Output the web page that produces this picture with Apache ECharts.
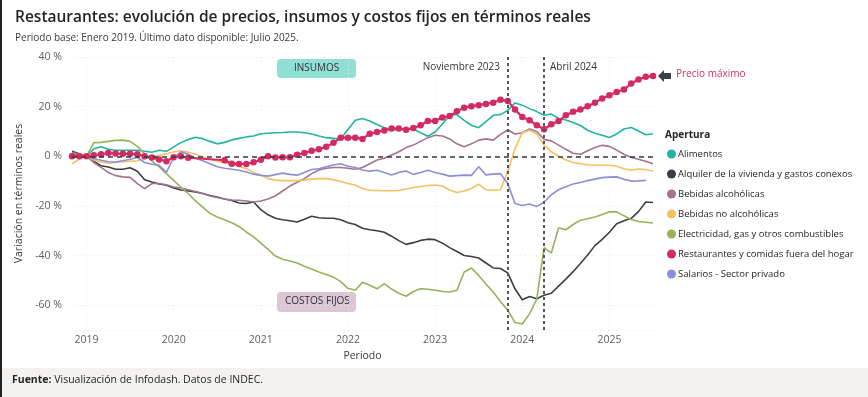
<!DOCTYPE html>
<html>
<head>
<meta charset="utf-8">
<script src="https://cdn.jsdelivr.net/npm/echarts@6/dist/echarts.min.js"></script>
<style>
	html, body { margin: 0; padding: 0; background: #fff; }
	#chart { width: 868px; height: 397px; }
</style>
</head>
<body>
<div id="chart"></div>
<script>
// ==========================
// datos (variación % en términos reales, base enero 2019)
// ==========================
var meses = [ '2018-11', '2018-12',
		'2019-01', '2019-02', '2019-03', '2019-04', '2019-05', '2019-06', '2019-07', '2019-08', '2019-09', '2019-10', '2019-11', '2019-12',
		'2020-01', '2020-02', '2020-03', '2020-04', '2020-05', '2020-06', '2020-07', '2020-08', '2020-09', '2020-10', '2020-11', '2020-12',
		'2021-01', '2021-02', '2021-03', '2021-04', '2021-05', '2021-06', '2021-07', '2021-08', '2021-09', '2021-10', '2021-11', '2021-12',
		'2022-01', '2022-02', '2022-03', '2022-04', '2022-05', '2022-06', '2022-07', '2022-08', '2022-09', '2022-10', '2022-11', '2022-12',
		'2023-01', '2023-02', '2023-03', '2023-04', '2023-05', '2023-06', '2023-07', '2023-08', '2023-09', '2023-10', '2023-11', '2023-12',
		'2024-01', '2024-02', '2024-03', '2024-04', '2024-05', '2024-06', '2024-07', '2024-08', '2024-09', '2024-10', '2024-11', '2024-12',
		'2025-01', '2025-02', '2025-03', '2025-04', '2025-05', '2025-06', '2025-07' ];

var alimentos = [ 0.5, 0.3, 0, 3.0, 3.8, 2.8, 2.4, 2.4, 2.4, 2.4,
		2.0, 1.6, 2.4, 2.0, 3.8, 5.5, 6.8, 7.7, 7.1, 6.0,
		5.0, 5.6, 6.6, 7.2, 7.8, 8.2, 9.1, 9.3, 9.5, 9.6,
		9.8, 9.8, 9.5, 9.0, 8.2, 7.5, 7.2, 7.1, 10.8, 14.5,
		15.2, 14.2, 12.8, 11.5, 10.8, 10.5, 11.2, 11.0, 9.5, 8.1,
		9.8, 13.0, 16.3, 16.8, 14.5, 12.5, 11.5, 14.0, 16.5, 16.8,
		18.5, 21.5, 20.6, 19.2, 18.0, 16.5, 17.0, 15.2, 14.6, 13.6,
		12.4, 10.5, 9.3, 8.5, 7.6, 9.0, 11.0, 11.6, 10.2, 8.7,
		9.1 ];

var alquiler = [ 2.0, 1.0, 0, -2.0, -3.8, -4.3, -5.2, -5.2, -4.6, -6.0,
		-9.5, -10.4, -11.2, -11.7, -12.8, -13.6, -14.0, -14.4, -15.0, -15.8,
		-16.4, -17.2, -17.8, -18.8, -19.0, -18.4, -21.5, -23.6, -25.0, -25.6,
		-26.0, -26.5, -25.4, -24.2, -24.8, -25.0, -25.0, -25.6, -26.8, -27.5,
		-29.0, -29.6, -30.0, -30.6, -32.2, -34.0, -35.5, -34.8, -33.9, -33.4,
		-33.6, -35.0, -36.8, -38.4, -40.0, -40.4, -41.0, -43.0, -45.0, -45.2,
		-47.0, -53.4, -57.8, -56.5, -57.4, -56.0, -55.2, -52.3, -49.5, -46.5,
		-43.2, -39.8, -36.0, -33.5, -30.6, -27.2, -26.0, -25.0, -22.3, -18.4,
		-18.6 ];

var bebidasAlc = [ 1.5, 0.8, 0, -2.5, -4.5, -6.5, -7.8, -8.3, -8.5, -11.0,
		-13.0, -11.0, -11.0, -11.5, -12.4, -12.8, -13.5, -14.2, -15.0, -16.0,
		-16.6, -17.2, -17.6, -17.7, -18.0, -18.4, -18.0, -17.2, -16.0, -14.0,
		-12.0, -10.5, -9.0, -7.0, -5.5, -4.8, -4.5, -4.5, -4.8, -5.2,
		-4.5, -3.0, -1.5, -0.8, 0.5, 1.8, 3.5, 4.5, 6.0, 7.5,
		8.5, 8.2, 7.0, 5.0, 3.8, 5.0, 6.5, 7.0, 6.5, 8.8,
		10.6, 9.0, 9.5, 11.0, 10.0, 6.8, 6.2, 4.5, 2.8, 1.2,
		0.8, 2.2, 3.5, 4.4, 4.0, 2.5, 0.8, -0.5, -1.2, -2.0,
		-3.0 ];

var bebidasNoAlc = [ -3.0, -1.2, 0, -1.5, -2.3, -2.8, -2.5, -2.2, -2.0, -1.8,
		-0.9, -0.2, 0.3, 1.0, 1.7, 2.2, 1.6, 0.8, -0.3, -1.2,
		-2.0, -2.6, -3.3, -4.0, -5.0, -6.5, -7.5, -9.0, -9.6, -9.8,
		-9.8, -9.8, -9.6, -9.2, -9.0, -9.0, -9.5, -10.2, -11.0, -11.6,
		-13.0, -13.7, -13.8, -13.9, -13.9, -13.8, -13.2, -12.6, -12.2, -11.8,
		-11.6, -12.0, -13.6, -14.6, -14.0, -13.0, -11.2, -13.5, -13.7, -13.5,
		-6.0, 3.0, 9.5, 10.5, 9.0, 4.5, 1.8, 0.0, -1.5, -2.5,
		-3.0, -3.4, -3.6, -3.6, -3.6, -4.0, -5.0, -5.6, -5.1, -5.3,
		-5.9 ];

var electricidad = [ 1.0, 0.5, 0, 5.5, 5.6, 6.0, 6.4, 6.5, 6.0, 4.0,
		1.0, -2.0, -4.3, -7.0, -9.7, -12.5, -15.0, -18.0, -20.5, -23.0,
		-24.5, -25.6, -26.8, -28.3, -30.5, -32.5, -35.0, -37.5, -40.2, -41.5,
		-42.2, -43.0, -44.3, -45.4, -46.6, -47.6, -48.7, -50.5, -53.2, -54.0,
		-50.8, -52.0, -53.4, -51.3, -53.5, -55.2, -56.4, -54.5, -53.4, -53.6,
		-54.0, -54.5, -54.7, -54.0, -46.6, -45.0, -48.0, -51.5, -54.7, -58.5,
		-62.0, -67.0, -67.6, -63.5, -57.5, -36.8, -39.0, -28.8, -29.6, -27.5,
		-25.8, -25.2, -24.5, -23.5, -22.4, -22.4, -24.0, -25.5, -26.3, -26.6,
		-26.9 ];

// abril a julio 2020 sin dato
var restaurantes = [ 0, 0, 0, 0.4, 0.8, 1.3, 1.1, 1.0, 1.0, 0.8,
		0, -0.5, -1.3, -2.0, -0.4, 0, -0.6, null, null, null,
		null, -1.6, -3.0, -3.1, -3.1, -2.4, -1.4, 0, -0.5, -0.4,
		-0.4, 0.6, 1.3, 2.2, 2.8, 3.8, 5.4, 7.5, 7.5, 7.5,
		7.0, 9.1, 9.8, 10.4, 11.2, 11.2, 10.7, 11.4, 12.5, 14.2,
		14.2, 15.6, 16.2, 18.1, 19.6, 20.2, 20.6, 21.1, 21.6, 22.8,
		22.3, 18.8, 15.8, 14.5, 12.5, 10.9, 12.9, 14.2, 16.5, 17.9,
		18.8, 20.2, 21.6, 23.3, 24.6, 25.9, 26.9, 29.3, 30.9, 32.0,
		32.3 ];

var salarios = [ 0.5, 0.3, 0, -1.0, -1.6, -2.2, -2.3, -1.8, -1.2, -0.5,
		-2.5, -3.2, -3.6, -6.5, -0.5, 1.8, 0.8, -0.8, -1.8, -3.0,
		-4.2, -4.8, -5.2, -5.6, -6.3, -7.2, -7.7, -8.0, -7.4, -6.8,
		-7.3, -7.6, -6.5, -5.3, -5.0, -4.2, -3.5, -3.0, -4.0, -4.5,
		-5.5, -6.0, -5.6, -6.5, -7.5, -6.5, -5.9, -7.3, -6.5, -5.6,
		-6.5, -7.2, -8.0, -7.8, -7.6, -7.7, -4.2, -7.5, -7.2, -7.0,
		-11.0, -19.0, -19.8, -19.2, -20.2, -18.5, -15.5, -13.5, -12.3, -11.2,
		-10.6, -9.8, -9.2, -8.6, -8.4, -8.3, -9.3, -10.0, -9.9, -9.7,
		null ];

var nombres = [ 'Alimentos', 'Alquiler de la vivienda y gastos conexos',
		'Bebidas alcohólicas', 'Bebidas no alcohólicas',
		'Electricidad, gas y otros combustibles',
		'Restaurantes y comidas fuera del hogar', 'Salarios - Sector privado' ];
var colores = [ '#22b3a3', '#3b3f45', '#a3738f', '#f5c064', '#98b25c', '#d42a63', '#8c8fd6' ];

var marcasX = [ '2023-11', '2024-04' ];
var ticksY = [ -60, -40, -20, 0, 20, 40 ];

// ==========================
// gráfico
// ==========================
var fuente = 'Open Sans';
var esEnero = function(i, v) {
	return v.slice(5) == '01';
};

function linea(nombre, datos, color, z) {
	return {
		name : nombre,
		type : 'line',
		data : datos,
		showSymbol : false,
		symbol : 'circle',
		connectNulls : true,
		lineStyle : { width : 1.6, color : color },
		itemStyle : { color : color },
		z : z
	};
}

var series = [ linea(nombres[0], alimentos, colores[0], 2),
		linea(nombres[1], alquiler, colores[1], 2),
		linea(nombres[2], bebidasAlc, colores[2], 2),
		linea(nombres[3], bebidasNoAlc, colores[3], 2),
		linea(nombres[4], electricidad, colores[4], 2),
		linea(nombres[5], restaurantes, colores[5], 4),
		linea(nombres[6], salarios, colores[6], 2) ];

// restaurantes con marcadores en todos los meses
series[5].showSymbol = true;
series[5].showAllSymbol = true;
series[5].symbolSize = 6.5;
series[5].lineStyle.width = 2.2;

// líneas de referencia
series[0].markLine = {
	silent : true,
	symbol : 'none',
	label : { show : false },
	data : [ {
		yAxis : 0,
		lineStyle : { color : '#3a3a3a', type : [ 5, 4 ], width : 1.5 }
	}, {
		xAxis : marcasX[0],
		lineStyle : { color : '#555', type : [ 3, 3 ], width : 2 }
	}, {
		xAxis : marcasX[1],
		lineStyle : { color : '#555', type : [ 3, 3 ], width : 2 }
	} ]
};

var chart = echarts.init(document.getElementById('chart'));
var option = {
	backgroundColor : '#fff',
	animation : false,
	textStyle : { fontFamily : fuente },
	title : {
		text : 'Restaurantes: evolución de precios, insumos y costos fijos en términos reales',
		subtext : 'Periodo base: Enero 2019. Último dato disponible: Julio 2025.',
		left : 10,
		top : 5,
		itemGap : 7,
		textStyle : { fontFamily : fuente, fontSize : 15.5, fontWeight : 600, color : '#252423' },
		subtextStyle : { fontFamily : fuente, fontSize : 10, color : '#3b3a39' }
	},
	legend : {
		orient : 'vertical',
		left : 662,
		top : 144,
		icon : 'circle',
		itemWidth : 9,
		itemHeight : 9,
		itemGap : 10,
		selectedMode : false,
		data : nombres,
		textStyle : { fontFamily : fuente, fontSize : 9.5, color : '#252423', padding : [ 0, 0, 0, -3 ] }
	},
	grid : { left : 72, right : 215, top : 57, bottom : 67 },
	xAxis : {
		type : 'category',
		boundaryGap : false,
		data : meses,
		name : 'Periodo',
		nameLocation : 'middle',
		nameGap : 21,
		nameTextStyle : { fontFamily : fuente, fontSize : 10.5, color : '#3b3a39' },
		axisLine : { show : false },
		axisTick : { show : false },
		axisLabel : {
			interval : esEnero,
			margin : 5,
			fontSize : 10.5,
			color : '#605e5c',
			formatter : function(v) {
				return v.slice(0, 4);
			}
		},
		splitLine : {
			show : true,
			interval : esEnero,
			lineStyle : { color : '#eeeeee', type : [ 1, 3 ] }
		}
	},
	yAxis : {
		type : 'value',
		min : -70,
		max : 40,
		name : 'Variación en términos reales',
		nameLocation : 'middle',
		nameGap : 47,
		nameTextStyle : { fontFamily : fuente, fontSize : 10.5, color : '#3b3a39' },
		axisLine : { show : false },
		axisTick : { show : false },
		axisLabel : {
			margin : 10,
			fontSize : 10.5,
			color : '#605e5c',
			formatter : function(v) {
				return ticksY.indexOf(v) >= 0 ? v + ' %' : '';
			}
		},
		splitLine : { lineStyle : { color : '#ebebeb', type : [ 1, 3 ] } }
	},
	graphic : [ {
		type : 'rect',
		left : 0,
		top : 368,
		shape : { width : 868, height : 29 },
		style : { fill : '#f3f2f1' }
	}, {
		type : 'rect',
		left : 0,
		top : 0,
		shape : { width : 2, height : 397 },
		style : { fill : '#222' }
	}, {
		type : 'text',
		left : 12,
		top : 375,
		style : {
			text : '{b|Fuente:} Visualización de Infodash. Datos de INDEC.',
			font : '10.5px "Open Sans"',
			fill : '#252423',
			rich : { b : { fontWeight : 700, fontFamily : fuente, fontSize : 10.5 } }
		}
	}, {
		type : 'rect',
		left : 277,
		top : 59,
		shape : { width : 79, height : 19, r : 4 },
		style : { fill : '#8fdfd5' }
	}, {
		type : 'text',
		left : 294,
		top : 63,
		style : { text : 'INSUMOS', font : '10px "Open Sans"', fill : '#333' }
	}, {
		type : 'rect',
		left : 277,
		top : 292,
		shape : { width : 79, height : 20, r : 4 },
		style : { fill : '#dcc6d6' }
	}, {
		type : 'text',
		left : 285,
		top : 296,
		style : { text : 'COSTOS FIJOS', font : '10px "Open Sans"', fill : '#333' }
	}, {
		type : 'text',
		right : 368,
		top : 62,
		style : { text : 'Noviembre 2023', font : '10px "Open Sans"', fill : '#333' }
	}, {
		type : 'text',
		left : 550,
		top : 62,
		style : { text : 'Abril 2024', font : '10px "Open Sans"', fill : '#333' }
	}, {
		type : 'polygon',
		shape : {
			points : [ [ 658, 76 ], [ 664, 70 ], [ 664, 73 ], [ 671, 73 ],
					[ 671, 79 ], [ 664, 79 ], [ 664, 82 ] ]
		},
		style : { fill : '#3b4045' }
	}, {
		type : 'text',
		left : 676,
		top : 69,
		style : { text : 'Precio máximo', font : '10px "Open Sans"', fill : '#cf2e6a' }
	}, {
		type : 'text',
		left : 665,
		top : 130,
		style : { text : 'Apertura', font : 'bold 10px "Open Sans"', fill : '#252423' }
	} ],
	series : series
};
chart.setOption(option);
</script>
</body>
</html>
